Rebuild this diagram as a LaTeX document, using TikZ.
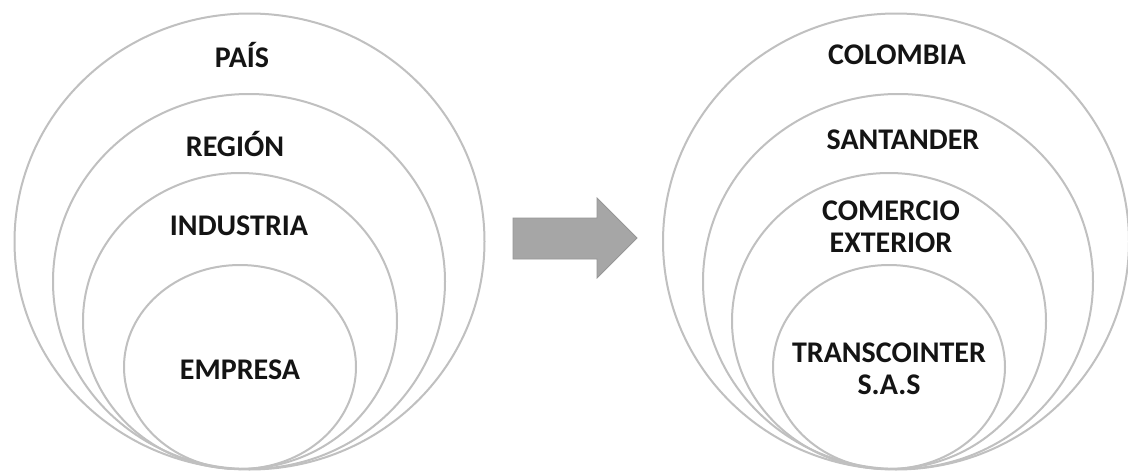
\documentclass[tikz,border=0pt]{standalone}
\usepackage{fontspec}
\setmainfont{Carlito}
\usetikzlibrary{positioning}
\definecolor{ringgray}{RGB}{192,192,192}
\definecolor{arrowgray}{RGB}{166,166,166}
\definecolor{arrowedge}{RGB}{150,150,150}
\definecolor{labelblack}{RGB}{20,20,20}

\begin{document}
\begin{tikzpicture}[x=1pt,y=-1pt,
  ring/.style={draw=ringgray,line width=2pt},
  every node/.style={font=\fontsize{30}{32}\selectfont\bfseries,text=labelblack,align=center}]
  \useasboundingbox[fill=white] (0,0) rectangle (1128,471);
  % Left rings
  \draw[ring] (249.5,241.5) ellipse (235 and 228);
  \draw[ring] (249,281.5) ellipse (196 and 187.5);
  \draw[ring] (240,321) ellipse (157 and 148);
  \draw[ring] (240,367) ellipse (116 and 102);
  \node (pais) at (242,55) {PAÍS};
  \node (region) at (235,144) {REGIÓN};
  \node (industria) at (239,226) {INDUSTRIA};
  \node (empresa) at (240,370) {EMPRESA};
  % Arrow
  \draw[fill=arrowgray,draw=arrowedge,line width=0.8pt]
    (513,218) -- (597,218) -- (597,198) -- (637,238) -- (597,278)
    -- (597,259) -- (513,259) -- cycle;
  % Right rings
  \draw[ring] (896,241.5) ellipse (233 and 228);
  \draw[ring] (898,281.5) ellipse (195 and 187.5);
  \draw[ring] (889,321) ellipse (157 and 148);
  \draw[ring] (889,367) ellipse (116 and 102);
  \node (colombia) at (897,55) {COLOMBIA};
  \node (santander) at (903,140) {SANTANDER};
  \node (comercio) at (891,227) {COMERCIO\\EXTERIOR};
  \node (transcointer) at (889,369) {TRANSCOINTER\\S.A.S};
\end{tikzpicture}
\end{document}
